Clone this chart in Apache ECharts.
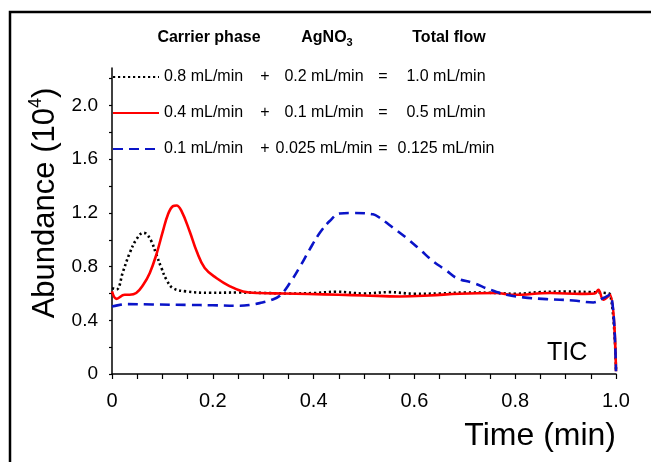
<!DOCTYPE html>
<html>
<head>
<meta charset="utf-8">
<script src="https://cdn.jsdelivr.net/npm/echarts@6/dist/echarts.min.js"></script>
<style>
  html, body { margin: 0; padding: 0; background: #fff; }
  #chart { width: 651px; height: 462px; }
</style>
</head>
<body>
<div id="chart"></div>
<script>
// 流量组合 (legend columns)
var carrierFlow = ['0.8 mL/min', '0.4 mL/min', '0.1 mL/min'];
var agFlow = ['0.2 mL/min', '0.1 mL/min', '0.025 mL/min'];
var totalFlow = ['1.0 mL/min', '0.5 mL/min', '0.125 mL/min'];

// tick labels
var xTicks = [0, 0.2, 0.4, 0.6, 0.8, 1.0];
var xMinorTicks = [0, 0.05, 0.1, 0.15, 0.2, 0.25, 0.3, 0.35, 0.4, 0.45, 0.5, 0.55, 0.6, 0.65, 0.7, 0.75, 0.8, 0.85, 0.9, 0.95, 1.0];
var yTicks = [0, 0.4, 0.8, 1.2, 1.6, 2.0];
var yMinorTicks = [0, 0.2, 0.4, 0.6, 0.8, 1.0, 1.2, 1.4, 1.6, 1.8, 2.0, 2.2];

// 0.8 mL/min carrier (black dotted)
var timeA = [0, 0.009, 0.022, 0.035, 0.048, 0.062, 0.068, 0.078, 0.088, 0.098, 0.108, 0.121, 0.148, 0.194, 0.25, 0.3, 0.35, 0.4, 0.445, 0.5, 0.55, 0.6, 0.65, 0.7, 0.75, 0.8, 0.85, 0.9, 0.95, 0.975, 0.988, 1.0];
var abundA = [0.64, 0.63, 0.765, 0.9, 1.0, 1.052, 1.044, 0.99, 0.89, 0.79, 0.703, 0.64, 0.615, 0.605, 0.607, 0.604, 0.6, 0.603, 0.613, 0.6, 0.61, 0.598, 0.6, 0.607, 0.605, 0.598, 0.61, 0.614, 0.61, 0.605, 0.595, 0.03];

// 0.4 mL/min carrier (red solid)
var timeB = [0, 0.009, 0.025, 0.035, 0.048, 0.062, 0.075, 0.088, 0.101, 0.111, 0.121, 0.128, 0.138, 0.154, 0.168, 0.184, 0.207, 0.234, 0.26, 0.293, 0.34, 0.39, 0.45, 0.5, 0.571, 0.63, 0.69, 0.763, 0.796, 0.87, 0.93, 0.958, 0.965, 0.975, 0.988, 1.0];
var abundB = [0.615, 0.56, 0.59, 0.59, 0.603, 0.665, 0.753, 0.89, 1.064, 1.189, 1.251, 1.256, 1.214, 1.064, 0.914, 0.79, 0.715, 0.653, 0.615, 0.603, 0.6, 0.596, 0.59, 0.585, 0.578, 0.585, 0.598, 0.603, 0.59, 0.603, 0.597, 0.6, 0.628, 0.553, 0.59, 0.02];

// 0.1 mL/min carrier (blue dashed)
var timeC = [0, 0.015, 0.029, 0.08, 0.15, 0.2, 0.254, 0.275, 0.293, 0.315, 0.333, 0.353, 0.373, 0.392, 0.412, 0.432, 0.452, 0.478, 0.518, 0.531, 0.558, 0.584, 0.611, 0.637, 0.662, 0.684, 0.717, 0.75, 0.783, 0.816, 0.862, 0.915, 0.955, 0.975, 0.988, 1.0];
var abundC = [0.503, 0.515, 0.521, 0.518, 0.515, 0.512, 0.508, 0.515, 0.528, 0.55, 0.583, 0.678, 0.8, 0.927, 1.05, 1.14, 1.196, 1.2, 1.19, 1.164, 1.089, 1.014, 0.927, 0.84, 0.775, 0.715, 0.678, 0.628, 0.59, 0.571, 0.558, 0.548, 0.533, 0.566, 0.59, 0.02];

function pairUp(t, v) {
    var out = [];
    for (var i = 0; i < t.length; i++) {
        out.push([t[i], v[i]]);
    }
    return out;
}

function fmtTick(v) {
    return v === 0 ? '0' : v.toFixed(1);
}

var font = 'Liberation Sans, Arial, sans-serif';
var myChart = echarts.init(document.getElementById('chart'));

var option = {
    animation: false,
    grid: { left: 112, right: 35, top: 68, bottom: 88 },
    xAxis: {
        type: 'value',
        min: 0,
        max: 1,
        interval: 0.05,
        offset: 8,
        name: 'Time (min)',
        nameLocation: 'end',
        nameGap: 0,
        nameTextStyle: {
            fontFamily: font, fontSize: 32, color: '#000',
            align: 'right', verticalAlign: 'top', padding: [46, 0, 0, 0]
        },
        axisLine: { lineStyle: { color: '#000', width: 1.5 } },
        axisTick: { customValues: xMinorTicks, length: 5, lineStyle: { color: '#000', width: 1.2 } },
        axisLabel: {
            customValues: xTicks, margin: 9, fontFamily: font, fontSize: 20, color: '#000',
            formatter: fmtTick
        },
        splitLine: { show: false }
    },
    yAxis: {
        type: 'value',
        min: 0,
        max: 2.28,
        offset: 2,
        name: '{n|Abundance (10}{s|4}{n|)}',
        nameLocation: 'middle',
        nameGap: 45,
        nameRotate: 90,
        nameTextStyle: {
            padding: [0, 0, 0, 36],
            rich: {
                n: { fontFamily: font, fontSize: 31, color: '#000' },
                s: { fontFamily: font, fontSize: 18, color: '#000', padding: [0, 0, 18, 0] }
            }
        },
        axisLine: { show: true, lineStyle: { color: '#000', width: 1.5 } },
        axisTick: { show: true, customValues: yMinorTicks, length: 3, lineStyle: { color: '#000', width: 1.2 } },
        axisLabel: {
            customValues: yTicks, margin: 12, fontFamily: font, fontSize: 19, color: '#000',
            formatter: fmtTick
        },
        splitLine: { show: false }
    },
    legend: {
        orient: 'vertical',
        left: 107,
        top: 64,
        itemWidth: 46,
        itemHeight: 14,
        itemGap: 20,
        itemTextGap: 13,
        itemStyle: { opacity: 0 },
        data: carrierFlow,
        formatter: function(name) {
            var i = carrierFlow.indexOf(name);
            return '{a|' + carrierFlow[i] + '}{p|+}{b|' + agFlow[i] + '}{e|=}{c|' + totalFlow[i] + '}';
        },
        textStyle: {
            rich: {
                a: { width: 90, align: 'left', fontFamily: font, fontSize: 16, color: '#000' },
                p: { width: 22, align: 'center', fontFamily: font, fontSize: 16, color: '#000' },
                b: { width: 96, align: 'center', fontFamily: font, fontSize: 16, color: '#000' },
                e: { width: 22, align: 'center', fontFamily: font, fontSize: 16, color: '#000' },
                c: { width: 104, align: 'center', fontFamily: font, fontSize: 16, color: '#000' }
            }
        }
    },
    graphic: [
        // 外框
        {
            type: 'rect', silent: true,
            shape: { x: 10, y: 12, width: 720, height: 520 },
            style: { fill: 'none', stroke: '#000', lineWidth: 2.5 }
        },
        {
            type: 'text', x: 209, y: 38,
            style: { text: 'Carrier phase', fontFamily: font, fontSize: 16, fontWeight: 'bold', fill: '#000', align: 'center', verticalAlign: 'middle' }
        },
        {
            type: 'text', x: 327, y: 38,
            style: {
                text: '{b|AgNO}{u|3}', align: 'center', verticalAlign: 'middle',
                rich: {
                    b: { fontFamily: font, fontSize: 16, fontWeight: 'bold', fill: '#000' },
                    u: { fontFamily: font, fontSize: 11, fontWeight: 'bold', fill: '#000', padding: [9, 0, 0, 0] }
                }
            }
        },
        {
            type: 'text', x: 449, y: 38,
            style: { text: 'Total flow', fontFamily: font, fontSize: 16, fontWeight: 'bold', fill: '#000', align: 'center', verticalAlign: 'middle' }
        },
        {
            type: 'text', x: 547, y: 353,
            style: { text: 'TIC', fontFamily: font, fontSize: 25, fill: '#000', align: 'left', verticalAlign: 'middle' }
        }
    ],
    series: [
        {
            name: carrierFlow[0],
            type: 'line',
            data: pairUp(timeA, abundA),
            showSymbol: false,
            symbol: 'none',
            smooth: 0.4,
            lineStyle: { color: '#000', width: 2.6, type: [2.2, 2.8] },
            itemStyle: { color: '#000' }
        },
        {
            name: carrierFlow[1],
            type: 'line',
            data: pairUp(timeB, abundB),
            showSymbol: false,
            symbol: 'none',
            smooth: 0.4,
            lineStyle: { color: '#ff0000', width: 2.6, type: 'solid' },
            itemStyle: { color: '#ff0000' }
        },
        {
            name: carrierFlow[2],
            type: 'line',
            data: pairUp(timeC, abundC),
            showSymbol: false,
            symbol: 'none',
            smooth: 0.4,
            lineStyle: { color: '#0a14c8', width: 2.6, type: [10, 6] },
            itemStyle: { color: '#0a14c8' }
        }
    ]
};
myChart.setOption(option);
</script>
</body>
</html>
